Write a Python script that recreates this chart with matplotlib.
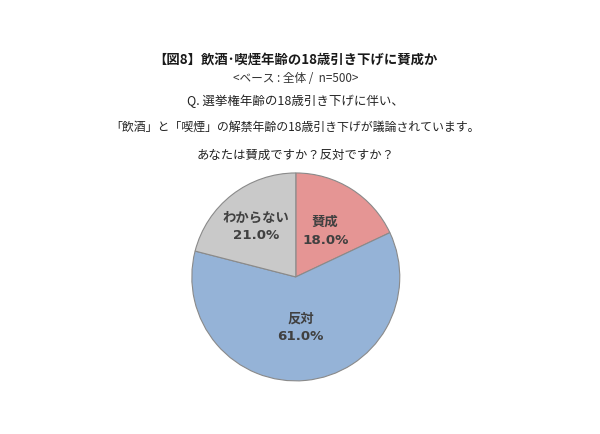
import matplotlib
matplotlib.use("Agg")
import matplotlib.pyplot as plt
import numpy as np

plt.rcParams["font.family"] = ["Noto Sans CJK JP", "DejaVu Sans"]

# Survey answers (share of respondents, %)
categories = ["賛成", "反対", "わからない"]
shares = [18.0, 61.0, 21.0]
colors = ["#E59594", "#95B3D7", "#C9C9C9"]

title = "【図8】飲酒･喫煙年齢の18歳引き下げに賛成か"
base_note = "<ベース : 全体 /  n=500>"
question = [
    "Q. 選挙権年齢の18歳引き下げに伴い、",
    "「飲酒」と「喫煙」の解禁年齢の18歳引き下げが議論されています。",
    "あなたは賛成ですか？反対ですか？",
]

fig = plt.figure(figsize=(6, 4.35), dpi=100)
fig.patch.set_facecolor("white")

# Title block
fig.text(0.492, 1 - 60 / 435, title, ha="center", va="center",
         fontsize=9.6, fontweight="bold", color="#1a1a1a")
fig.text(0.492, 1 - 79 / 435, base_note, ha="center", va="center",
         fontsize=8.4, color="#333333")
q_y = [101, 127, 155]
q_size = [9.0, 8.6, 8.9]
for line, y, fs in zip(question, q_y, q_size):
    fig.text(0.492, 1 - y / 435, line, ha="center", va="center",
             fontsize=fs, color="#222222")

# Pie
ax = fig.add_axes([0.318, 0.1196, 0.35, 0.483])
labels_iter = iter(categories)
wedges, texts, autotexts = ax.pie(
    shares,
    colors=colors,
    startangle=90,
    counterclock=False,
    autopct=lambda p: f"{next(labels_iter)}\n{p:.1f}%",
    pctdistance=0.54,
    wedgeprops=dict(edgecolor="#8a8a8a", linewidth=0.8),
    textprops=dict(color="#404040", fontsize=9.6, fontweight="bold",
                   linespacing=1.45, family=["DejaVu Sans", "Noto Sans CJK JP"]),
)

# push labels a little to match the original placement
label_dist = [0.53, 0.48, 0.62]
for w, t, d in zip(wedges, autotexts, label_dist):
    ang = np.deg2rad((w.theta1 + w.theta2) / 2)
    t.set_position((d * np.cos(ang), d * np.sin(ang)))

ax.set_xlim(-1.01, 1.01)
ax.set_ylim(-1.01, 1.01)
ax.set_aspect("equal")

fig.savefig("out.png", dpi=100, facecolor="white")
